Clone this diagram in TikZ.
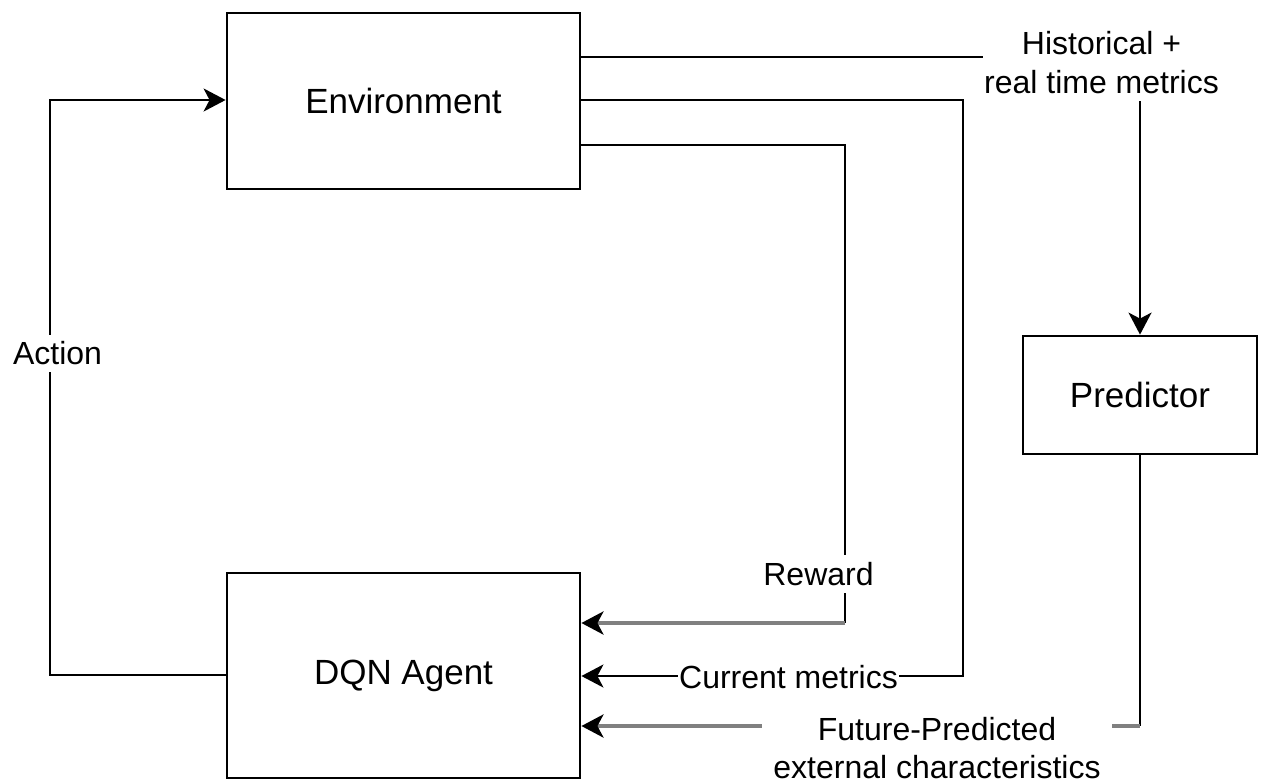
\documentclass[tikz,border=0pt]{standalone}
\usepackage{fontspec}
\setmainfont{Liberation Sans}
\usetikzlibrary{arrows.meta}
\definecolor{linegray}{RGB}{128,128,128}
\begin{document}
\begin{tikzpicture}[x=0.5pt,y=-0.5pt,
  box/.style={draw=black, line width=1.4pt, fill=white, inner sep=0pt,
    font=\fontsize{17.5}{21}\selectfont},
  lbl/.style={fill=white, align=center, inner xsep=0.5pt, inner ysep=3.5pt,
    font=\fontsize{16}{19.5}\selectfont},
  conn/.style={draw=black, line width=1.3pt},
  gconn/.style={draw=linegray, line width=2.4pt},
  tipk/.style={-{Stealth[length=11pt, width=11.5pt, inset=3pt, color=black]}},
]
\useasboundingbox (0,0) rectangle (1262,783);

% boxes
\node[box, minimum width=176.5pt, minimum height=88pt] (env) at (403.5,101) {Environment};
\node[box, minimum width=176.5pt, minimum height=102.5pt] (dqn) at (403.5,675.5) {DQN Agent};
\node[box, minimum width=117pt, minimum height=59pt] (pred) at (1140,395) {Predictor};

% corner coordinates
\coordinate (hcorner) at (pred.north |- 0,57);
\coordinate (cmtop) at (963,100);
\coordinate (cmbot) at (963,676);
\coordinate (rwtop) at (845,145);
\coordinate (rwbot) at (845,623);
\coordinate (fpbot) at (pred.south |- 0,726);
\coordinate (actbot) at (50,675);
\coordinate (acttop) at (50,100);

% Historical + real time metrics -> Predictor
\draw[conn, tipk] (env.east |- 0,57) -- (hcorner) -- (pred.north);
% Current metrics
\draw[conn, tipk] (env.east |- cmtop) -- (cmtop) -- (cmbot) -- (dqn.east |- cmbot);
% Reward
\draw[conn] (env.east |- rwtop) -- (rwtop) -- (rwbot);
\draw[gconn, tipk] (rwbot) -- (dqn.east |- rwbot);
% Future-Predicted
\draw[conn] (pred.south) -- (fpbot);
\draw[gconn, tipk] (fpbot) -- (dqn.east |- fpbot);
% Action
\draw[conn, tipk] (dqn.west |- actbot) -- (actbot) -- (acttop) -- (env.west |- acttop);

% labels
\node[lbl] (lhist) at (1101.5,62.5) {Historical +\\real time metrics};
\node[lbl] (lcur) at (788.5,677) {Current metrics};
\node[lbl] (lrew) at (818.5,574) {Reward};
\node[lbl, minimum width=175pt, font=\fontsize{16}{19}\selectfont] (lfut) at (937,748.5) {Future-Predicted\\external characteristics};
\node[lbl] (lact) at (57.5,353.5) {Action};
\end{tikzpicture}
\end{document}
